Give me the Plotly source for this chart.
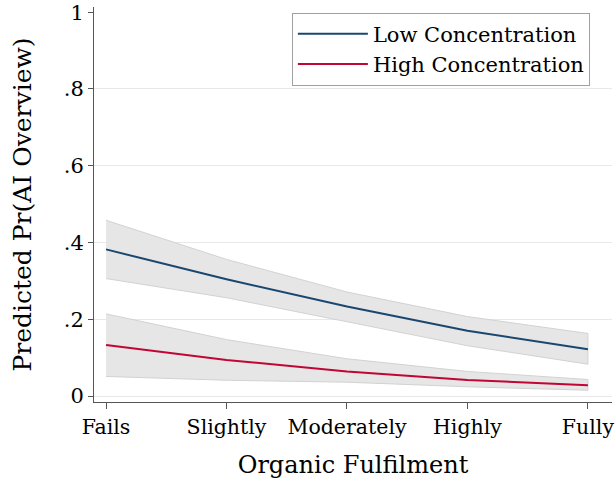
import plotly.graph_objects as go

categories = ["Fails", "Slightly", "Moderately", "Highly", "Fully"]

low_pred = [0.382, 0.304, 0.233, 0.170, 0.122]
low_upper = [0.458, 0.356, 0.271, 0.207, 0.163]
low_lower = [0.306, 0.256, 0.193, 0.131, 0.083]

high_pred = [0.133, 0.094, 0.064, 0.042, 0.028]
high_upper = [0.214, 0.147, 0.097, 0.064, 0.043]
high_lower = [0.051, 0.041, 0.036, 0.024, 0.015]

y_tickvals = [0, 0.2, 0.4, 0.6, 0.8, 1.0]
y_ticktext = ["0", ".2", ".4", ".6", ".8", "1"]

FONT = "DejaVu Serif"
BAND_FILL = "#e6e6e6"
BAND_LINE = "#d2d2d2"
LOW_COLOR = "#1a476f"
HIGH_COLOR = "#c10534"
AXIS_COLOR = "#555555"

fig = go.Figure()

for upper, lower in [(low_upper, low_lower), (high_upper, high_lower)]:
    fig.add_trace(go.Scatter(
        x=categories + categories[::-1],
        y=upper + lower[::-1],
        fill="toself",
        fillcolor=BAND_FILL,
        line=dict(color=BAND_LINE, width=1),
        mode="lines",
        hoverinfo="skip",
        showlegend=False,
    ))

fig.add_trace(go.Scatter(
    x=categories, y=low_pred, mode="lines",
    line=dict(color=LOW_COLOR, width=2),
    name="Low Concentration",
))
fig.add_trace(go.Scatter(
    x=categories, y=high_pred, mode="lines",
    line=dict(color=HIGH_COLOR, width=2),
    name="High Concentration",
))

fig.update_layout(
    width=615, height=479,
    margin=dict(l=94, r=3, t=7, b=77),
    paper_bgcolor="white",
    plot_bgcolor="white",
    font=dict(family=FONT, size=21, color="black"),
    legend=dict(
        x=0.382, y=0.986, xanchor="left", yanchor="top",
        bgcolor="white", bordercolor="#a0a0a0", borderwidth=1,
        font=dict(family=FONT, size=21, color="black"),
        itemwidth=70, tracegroupgap=0,
    ),
    xaxis=dict(
        type="category",
        range=[-0.1, 4.2],
        automargin=False,
        showline=True, linecolor=AXIS_COLOR, linewidth=1,
        ticks="outside", ticklen=6, tickcolor=AXIS_COLOR,
        showgrid=False, zeroline=False,
        tickfont=dict(family=FONT, size=20.5, color="black"),
        title=dict(text="Organic Fulfilment", font=dict(family=FONT, size=24), standoff=18),
    ),
    yaxis=dict(
        range=[-0.0156, 1.0136],
        automargin=False,
        tickmode="array", tickvals=y_tickvals, ticktext=y_ticktext,
        ticklabeloverflow="allow",
        showline=True, linecolor=AXIS_COLOR, linewidth=1,
        ticks="outside", ticklen=5, tickcolor=AXIS_COLOR,
        showgrid=False, zeroline=False,
        minor=dict(tickmode="array", tickvals=y_tickvals[:-1], showgrid=True,
                   gridcolor="#e8e8e8", gridwidth=1, ticks=""),
        tickfont=dict(family=FONT, size=21, color="black"),
        title=dict(text="Predicted Pr(AI Overview)", font=dict(family=FONT, size=25), standoff=25),
    ),
)

# remove the browser's default 8px body margin so the figure fills the window
fig.write_html("out.html", config={"displayModeBar": False},
               post_script="document.body.style.margin='0';")
